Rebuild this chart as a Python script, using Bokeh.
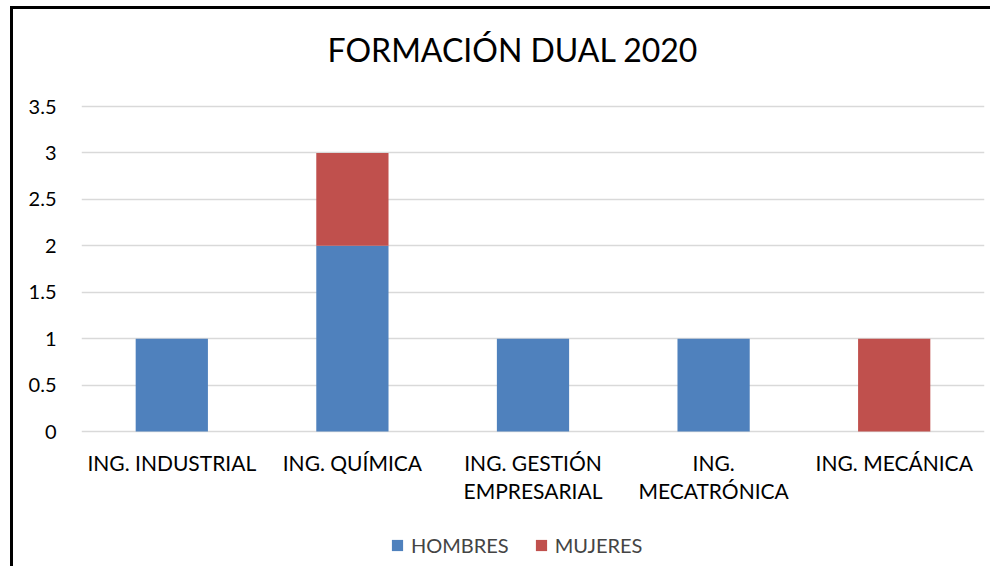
from bokeh.plotting import figure
from bokeh.models import Legend, LegendItem, FactorRange, ColumnDataSource
from bokeh.core.properties import value
from bokeh.embed import file_html
from bokeh.resources import INLINE

title_text = "FORMACIÓN DUAL 2020"
categories = ["ING. INDUSTRIAL", "ING. QUÍMICA", "ING. GESTIÓN EMPRESARIAL", "ING. MECATRÓNICA", "ING. MECÁNICA"]
label_line1 = ["ING. INDUSTRIAL", "ING. QUÍMICA", "ING. GESTIÓN", "ING.", "ING. MECÁNICA"]
label_line2 = ["", "", "EMPRESARIAL", "MECATRÓNICA", ""]
series = ["HOMBRES", "MUJERES"]
hombres = [1, 2, 1, 1, 0]
mujeres = [0, 1, 0, 0, 1]
colors = ["#4F81BD", "#C0504D"]
y_ticks = [0, 0.5, 1, 1.5, 2, 2.5, 3, 3.5]
y_max = 3.5

FONT = "Lato"

p = figure(
    x_range=FactorRange(*categories, range_padding=0),
    y_range=(-1.486, 4.545),
    width=980, height=560,
    output_backend="svg", toolbar_location=None,
    min_border_left=68, min_border_right=9,
    min_border_top=0, min_border_bottom=0,
)
p.title.visible = False
p.styles = {"border-left": "3px solid black", "border-top": "3px solid black",
            "margin-left": "10px", "margin-top": "6px"}
p.outline_line_color = None

src = ColumnDataSource({"cat": categories, "HOMBRES": hombres, "MUJERES": mujeres,
                        "zero": [0] * len(categories),
                        "line1": label_line1, "line2": label_line2})
rs = p.vbar_stack(series, x="cat", width=0.4, color=colors, source=src, line_color=None)

# chart title, centred over the chart above the top gridline
p.text(x=[categories[2]], y=[y_max], text=[title_text], x_offset=-20, y_offset=-57,
       text_align="center", text_baseline="middle",
       text_font=value(FONT), text_font_size="32px", text_color="#000000")

# category labels (two lines) drawn under the zero line
p.text(x="cat", y="zero", text="line1", source=src, y_offset=31,
       text_align="center", text_baseline="middle",
       text_font=value(FONT), text_font_size="21px", text_color="#000000")
p.text(x="cat", y="zero", text="line2", source=src, y_offset=59,
       text_align="center", text_baseline="middle",
       text_font=value(FONT), text_font_size="21px", text_color="#000000")

p.xaxis.visible = False
p.xgrid.grid_line_color = None
p.ygrid.grid_line_color = "#D9D9D9"
p.ygrid.grid_line_width = 1.3
p.yaxis.ticker = y_ticks
ax = p.yaxis[0]
ax.axis_line_color = None
ax.major_tick_line_color = None
ax.minor_tick_line_color = None
ax.major_label_text_font = FONT
ax.major_label_text_font_size = "20px"
ax.major_label_text_color = "#000000"
ax.major_label_standoff = 19

legend = Legend(
    items=[LegendItem(label=s, renderers=[r]) for s, r in zip(series, rs)],
    orientation="horizontal",
    location=(309, 12),
    padding=0, margin=0, spacing=25,
    glyph_width=14, glyph_height=14,
    label_text_font=FONT, label_text_font_size="20px",
    label_standoff=7,
    border_line_color=None, background_fill_alpha=0,
)
p.add_layout(legend, "center")

open("out.html", "w").write(file_html(p, INLINE))
